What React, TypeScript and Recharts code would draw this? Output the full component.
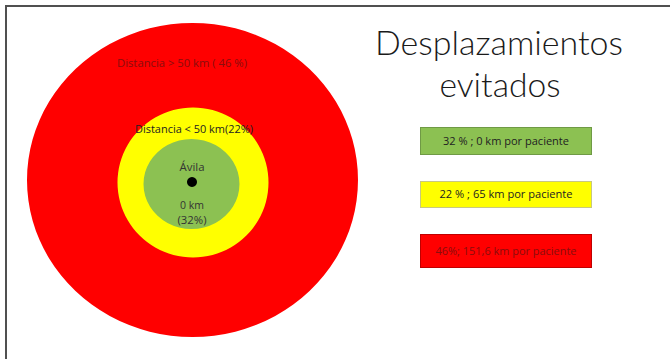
import React from 'react';
import { PieChart, Pie, Legend } from 'recharts';

// ---- data ----
const zones = ['0 km', '< 50 km', '> 50 km'];
const sharePct = [32, 22, 46];
const kmPerPatient = [0, 65, 151.6];
const legendLabels = ['32 % ; 0 km por paciente', '22 % ; 65 km por paciente', '46%; 151,6 km por paciente'];
const ringColors = ['#8cc152', '#ffff00', '#ff0000'];
const titleLines = ['Desplazamientos', 'evitados'];
const centerName = 'Ávila';

// ---- layout ----
const W = 670;
const H = 359;
const FONT = "'Open Sans', 'Noto Sans', sans-serif";
const TITLE_FONT = "Lato, 'Open Sans', sans-serif";
const ringGeom = [
  { cx: 191.5, cy: 184, rx: 48, ry: 45 },
  { cx: 193, cy: 182.5, rx: 75.5, ry: 75 },
  { cx: 192.5, cy: 180, rx: 165.5, ry: 157 },
];
const legendBoxes = [
  { y: 0, h: 27, stroke: '#6f9a45', text: '#222' },
  { y: 54, h: 26, stroke: '#c8c880', text: '#222' },
  { y: 107, h: 33, stroke: '#c00000', text: '#8a0d0d' },
];
const legendTextLen = [126, 133, 141];

function RingLayer({ i }: { i: number }) {
  const g = ringGeom[i];
  const data = [{ name: zones[i], value: sharePct[i], km: kmPerPatient[i] }];
  return (
    <div
      style={{
        position: 'absolute',
        left: 0,
        top: 0,
        width: W,
        height: H,
        transform: `scaleX(${g.rx / g.ry})`,
        transformOrigin: `${g.cx}px ${g.cy}px`,
      }}
    >
      <PieChart width={W} height={H} margin={{ top: 0, right: 0, bottom: 0, left: 0 }}>
        <Pie
          data={data}
          dataKey="value"
          nameKey="name"
          cx={g.cx}
          cy={g.cy}
          innerRadius={0}
          outerRadius={g.ry}
          startAngle={90}
          endAngle={-270}
          fill={ringColors[i]}
          stroke="none"
          legendType="none"
          isAnimationActive={false}
        />
      </PieChart>
    </div>
  );
}

function LegendContent() {
  return (
    <svg width={174} height={142} style={{ display: 'block', overflow: 'visible' }}>
      {legendLabels.map((t, i) => {
        const b = legendBoxes[i];
        return (
          <g key={t}>
            <rect x={0.5} y={b.y + 0.5} width={171} height={b.h} fill={ringColors[i]} stroke={b.stroke} strokeWidth={1} />
            <text
              x={86}
              y={b.y + b.h / 2 + 4}
              textAnchor="middle"
              fontFamily={FONT}
              fontSize={11.5}
              fill={b.text}
              textLength={legendTextLen[i]}
              lengthAdjust="spacingAndGlyphs"
            >
              {t}
            </text>
          </g>
        );
      })}
    </svg>
  );
}

function Txt(props: { x: number; y: number; size: number; fill: string; len?: number; weight?: number; family?: string; children: string }) {
  const { x, y, size, fill, len, weight, family, children } = props;
  return (
    <text
      x={x}
      y={y}
      textAnchor="middle"
      fontFamily={family || FONT}
      fontSize={size}
      fontWeight={weight || 400}
      fill={fill}
      textLength={len}
      lengthAdjust={len ? 'spacingAndGlyphs' : undefined}
    >
      {children}
    </text>
  );
}

export default function App() {
  const dot = [{ name: centerName, value: 1 }];
  return (
    <div style={{ position: 'absolute', left: 0, top: 0, width: W, height: H, background: '#fff', overflow: 'hidden' }}>
      <div
        style={{
          position: 'absolute',
          left: 5,
          top: 5,
          width: W,
          height: H,
          borderTop: '2px solid #505050',
          borderLeft: '2px solid #505050',
        }}
      />
      <RingLayer i={2} />
      <RingLayer i={1} />
      <RingLayer i={0} />
      <div style={{ position: 'absolute', left: 0, top: 0, width: W, height: H }}>
        <PieChart width={W} height={H} margin={{ top: 0, right: 0, bottom: 0, left: 0 }}>
          <Pie
            data={dot}
            dataKey="value"
            cx={192}
            cy={182}
            innerRadius={0}
            outerRadius={5}
            fill="#000"
            stroke="none"
            legendType="none"
            isAnimationActive={false}
          />
          <Legend
            content={() => <LegendContent />}
            wrapperStyle={{ position: 'absolute', left: 420, top: 127, width: 174, height: 142, bottom: 'auto', right: 'auto' }}
          />
        </PieChart>
      </div>
      <svg width={W} height={H} style={{ position: 'absolute', left: 0, top: 0, pointerEvents: 'none' }}>
        <Txt x={499} y={55} size={33} fill="#1a1a1a" weight={300} len={248} family={TITLE_FONT}>{titleLines[0]}</Txt>
        <Txt x={500} y={97} size={33} fill="#1a1a1a" weight={300} len={121} family={TITLE_FONT}>{titleLines[1]}</Txt>
        <Txt x={182} y={67} size={11.5} fill="#8a0d0d" len={130}>{`Distancia ${zones[2]} ( ${sharePct[2]} %)`}</Txt>
        <Txt x={194} y={133} size={11.5} fill="#222" len={118}>{`Distancia ${zones[1]}(${sharePct[1]}%)`}</Txt>
        <Txt x={192} y={170.5} size={11.5} fill="#333" len={25}>{centerName}</Txt>
        <Txt x={192} y={209} size={11} fill="#333" len={24}>{zones[0]}</Txt>
        <Txt x={192} y={223.5} size={10.5} fill="#333" len={29}>{`(${sharePct[0]}%)`}</Txt>
      </svg>
    </div>
  );
}
